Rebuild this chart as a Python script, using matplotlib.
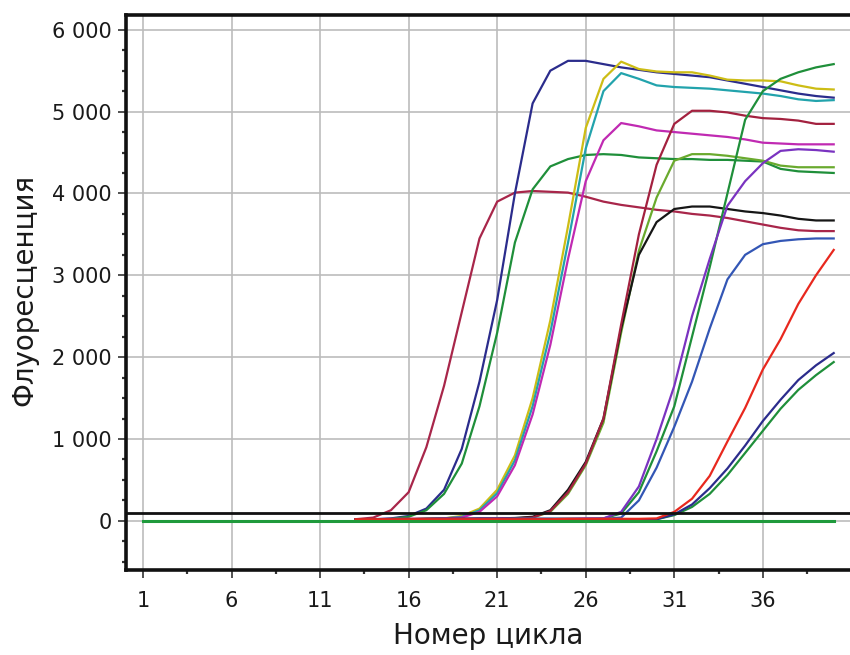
import numpy as np
import matplotlib.pyplot as plt
from matplotlib.ticker import FixedLocator, MultipleLocator

# qPCR amplification curves, values read per cycle (13..40)
first_cycle = 13
last_cycle = 40

crimson_a = [20, 40, 130, 350, 900, 1650, 2550, 3450, 3900, 4010, 4030, 4020, 4010, 3960,
             3900, 3860, 3830, 3800, 3780, 3750, 3730, 3700, 3660, 3620, 3580, 3550, 3540, 3540]
navy_a = [20, 20, 30, 60, 150, 380, 880, 1700, 2700, 4000, 5100, 5500, 5620, 5620,
          5580, 5540, 5510, 5480, 5460, 5440, 5420, 5380, 5340, 5300, 5260, 5220, 5190, 5170]
green_a = [10, 15, 25, 50, 130, 330, 700, 1400, 2300, 3400, 4050, 4330, 4420, 4470,
           4480, 4470, 4440, 4430, 4420, 4420, 4410, 4410, 4400, 4390, 4300, 4270, 4260, 4250]
yellow_b = [15, 15, 20, 20, 25, 30, 60, 150, 380, 800, 1500, 2450, 3600, 4800,
            5400, 5610, 5520, 5490, 5480, 5480, 5440, 5390, 5380, 5380, 5370, 5320, 5280, 5270]
teal_b = [15, 15, 20, 20, 25, 30, 50, 130, 340, 740, 1400, 2300, 3400, 4550,
          5250, 5470, 5400, 5320, 5300, 5290, 5280, 5260, 5240, 5220, 5190, 5150, 5130, 5140]
magenta_b = [20, 20, 25, 25, 25, 30, 40, 110, 300, 680, 1300, 2150, 3200, 4150,
             4650, 4860, 4820, 4770, 4750, 4730, 4710, 4690, 4660, 4620, 4610, 4600, 4600, 4600]
crimson_c = [20, 20, 20, 25, 25, 25, 25, 25, 30, 30, 40, 120, 350, 700,
             1250, 2400, 3500, 4350, 4850, 5010, 5010, 4990, 4950, 4920, 4910, 4890, 4850, 4850]
olive_c = [15, 15, 20, 20, 20, 25, 25, 25, 25, 30, 40, 110, 330, 680,
           1200, 2300, 3300, 3950, 4400, 4480, 4480, 4460, 4430, 4400, 4340, 4320, 4320, 4320]
black_c = [20, 20, 20, 20, 25, 25, 25, 30, 30, 35, 50, 130, 380, 720,
           1250, 2350, 3250, 3650, 3810, 3840, 3840, 3810, 3780, 3760, 3730, 3690, 3670, 3670]
purple_d = [20, 20, 20, 20, 20, 25, 25, 25, 25, 25, 25, 25, 25, 30,
            30, 110, 420, 1000, 1650, 2500, 3200, 3850, 4150, 4370, 4520, 4540, 4530, 4510]
green_d = [15, 15, 15, 15, 20, 20, 20, 20, 20, 25, 25, 25, 25, 25,
           30, 90, 350, 850, 1400, 2250, 3100, 4000, 4900, 5250, 5400, 5480, 5540, 5580]
blue_d = [20, 20, 20, 20, 20, 20, 20, 25, 25, 25, 25, 25, 25, 25,
          25, 40, 250, 650, 1150, 1700, 2350, 2950, 3250, 3380, 3420, 3440, 3450, 3450]
red_e = [20, 20, 20, 20, 20, 20, 20, 20, 20, 20, 20, 20, 25, 25,
         25, 25, 25, 30, 110, 270, 550, 970, 1380, 1850, 2220, 2650, 3000, 3310]
navy_e = [20, 20, 20, 20, 20, 20, 20, 20, 20, 20, 20, 20, 20, 20,
          20, 20, 20, 20, 80, 200, 400, 640, 920, 1220, 1480, 1720, 1900, 2050]
green_e = [15, 15, 15, 15, 15, 15, 15, 15, 15, 15, 15, 15, 15, 20,
           20, 20, 20, 20, 70, 170, 330, 560, 830, 1100, 1370, 1600, 1780, 1940]

# negative control, cycles 1..40
ntc_values = [0, 0, 0, 0, 0, 0, 0, 0, 0, 0, 0, 0, 0, 0, 0, 0, 0, 0, 0, 0,
              0, 0, 0, 0, 0, 0, 0, 0, 0, 0, 0, 0, 0, 0, 0, 0, 0, 0, 0, 0]
threshold = 100

x_ticks = [1, 6, 11, 16, 21, 26, 31, 36]
y_ticks = [0, 1000, 2000, 3000, 4000, 5000, 6000]
y_tick_labels = ["0", "1 000", "2 000", "3 000", "4 000", "5 000", "6 000"]

curves = [
    (crimson_a, "#a8264a"), (navy_a, "#2b2c8c"), (green_a, "#1f8f3a"),
    (yellow_b, "#cdbd15"), (teal_b, "#22a3ac"), (magenta_b, "#c02ab2"),
    (olive_c, "#6aaa2e"), (black_c, "#161616"), (crimson_c, "#a3213f"),
    (blue_d, "#3356b5"), (green_d, "#1f8f3a"), (purple_d, "#7a33c0"),
    (green_e, "#1f8f3a"), (navy_e, "#2b2c8c"), (red_e, "#e8281e"),
]

fig = plt.figure(figsize=(8.5, 6.55), dpi=100)
ax = fig.add_axes([0.1482, 0.1298, 0.8518, 0.8473])

cycles = np.arange(first_cycle, last_cycle + 1)
for vals, col in curves:
    ax.plot(cycles, vals, color=col, lw=1.6, zorder=3, solid_joinstyle="round")

ax.plot(np.arange(1, 41), ntc_values, color="#1f9a3c", lw=2.2, zorder=4)
ax.axhline(threshold, color="#111111", lw=2.0, zorder=5)

ax.set_xlim(0.04, 40.92)
ax.set_ylim(-600, 6180)

ax.xaxis.set_major_locator(FixedLocator(x_ticks + [41]))
ax.xaxis.set_minor_locator(MultipleLocator(5, offset=3.5))
ax.set_xticklabels([str(t) for t in x_ticks] + [""])
ax.set_yticks(y_ticks)
ax.set_yticklabels(y_tick_labels)
ax.yaxis.set_minor_locator(MultipleLocator(250))

ax.grid(True, which="major", color="#bcbcbc", lw=1.2, zorder=0)
ax.set_axisbelow(True)

for side in ["left", "bottom", "top"]:
    ax.spines[side].set_linewidth(2.6)
    ax.spines[side].set_color("#111111")
ax.spines["right"].set_visible(False)

ax.tick_params(which="major", direction="out", length=6, width=1.2,
               labelsize=15, colors="#333333", labelcolor="#1a1a1a")
ax.tick_params(axis="x", which="major", pad=9)
ax.tick_params(axis="y", which="major", pad=4)
ax.tick_params(which="minor", direction="out", length=3, width=1.6, colors="#333333")
ax.tick_params(axis="y", which="both", right=False)
ax.tick_params(axis="x", which="both", top=False)

ax.set_xlabel("Номер цикла", fontsize=20, color="#1a1a1a")
ax.set_ylabel("Флуоресценция", fontsize=20, color="#1a1a1a")
ax.xaxis.set_label_coords(0.5, -0.094)
ax.yaxis.set_label_coords(-0.121, 0.505)

fig.savefig("out.png", dpi=100)
